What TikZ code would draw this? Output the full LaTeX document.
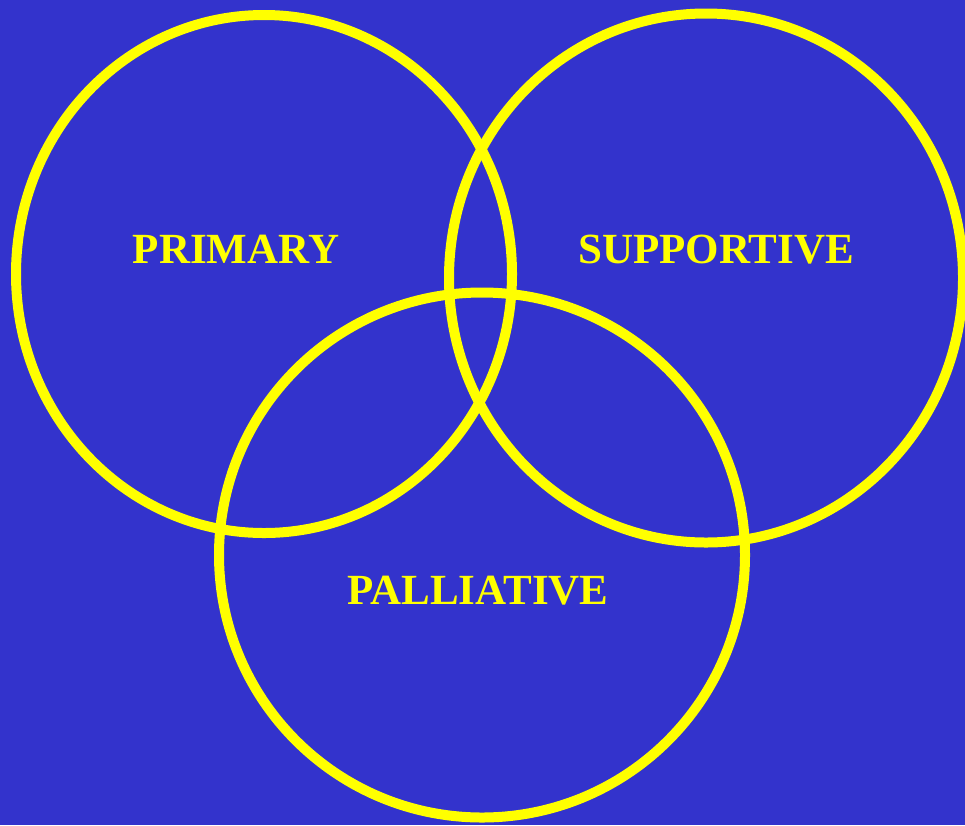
\documentclass[tikz,border=0pt]{standalone}
\usepackage{fontspec}
\setmainfont{Liberation Serif}
\usetikzlibrary{shapes.geometric}
\definecolor{slideblue}{RGB}{51,51,204}
\definecolor{ringyellow}{RGB}{255,255,0}

\begin{document}
\begin{tikzpicture}[x=1pt,y=-1pt,
ring/.style={draw=ringyellow,line width=10pt,ellipse,inner sep=0pt},
lbl/.style={text=ringyellow,font=\fontsize{43}{50}\selectfont\bfseries,anchor=base}]
\useasboundingbox (0,0) rectangle (965,825);
\fill[slideblue](0,0)rectangle(965,825);
% the three rings
\node[ring,minimum width=496pt,minimum height=518pt](p) at (264,274){};
\node[ring,minimum width=514pt,minimum height=529pt](s) at (706,278){};
\node[ring,minimum width=526pt,minimum height=525pt](c) at (482,555){};
% labels
\node[lbl](primary) at (236,263){PRIMARY};
\node[lbl](supportive) at (716,263){SUPPORTIVE};
\node[lbl](palliative) at (478,604){PALLIATIVE};
\end{tikzpicture}
\end{document}
